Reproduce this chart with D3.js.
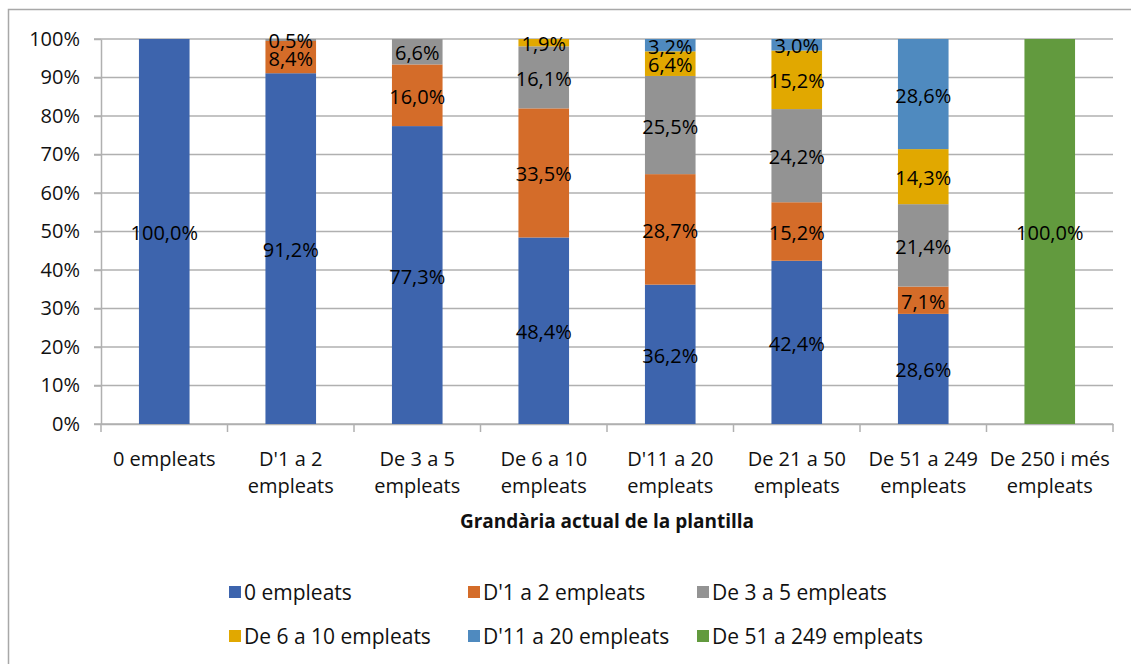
<!DOCTYPE html>
<html>
  <head>
    <meta charset="utf-8" />
    <title>Grandària actual de la plantilla</title>
    <script src="https://d3js.org/d3.v7.min.js"></script>
    <style>
      body { margin: 0; background: #fff; }
      text { font-family: "Open Sans", sans-serif; }
    </style>
  </head>
  <body>
    <svg width="1131" height="664"></svg>
    <script>
      // categories (x axis) and series
      var categories = ["0 empleats", "D'1 a 2 empleats", "De 3 a 5 empleats", "De 6 a 10 empleats",
        "D'11 a 20 empleats", "De 21 a 50 empleats", "De 51 a 249 empleats", "De 250 i més empleats"];
      var seriesNames = ["0 empleats", "D'1 a 2 empleats", "De 3 a 5 empleats",
        "De 6 a 10 empleats", "D'11 a 20 empleats", "De 51 a 249 empleats"];
      var s0 = [100, 91.2, 77.3, 48.4, 36.2, 42.4, 28.6, 0];
      var s1 = [0, 8.4, 16.0, 33.5, 28.7, 15.2, 7.1, 0];
      var s2 = [0, 0.5, 6.6, 16.1, 25.5, 24.2, 21.4, 0];
      var s3 = [0, 0, 0, 1.9, 6.4, 15.2, 14.3, 0];
      var s4 = [0, 0, 0, 0, 3.2, 3.0, 28.6, 0];
      var s5 = [0, 0, 0, 0, 0, 0, 0, 100];
      var seriesValues = [s0, s1, s2, s3, s4, s5];
      var colors = ["#3D64AD", "#D46C29", "#939393", "#E1A800", "#4F8ABF", "#629A3E"];
      var yTicks = [0, 0.1, 0.2, 0.3, 0.4, 0.5, 0.6, 0.7, 0.8, 0.9, 1];
      var axisTitle = "Grandària actual de la plantilla";

      var svg = d3.select("svg");
      var plotLeft = 101, plotRight = 1113, plotTop = 39, plotBottom = 424;

      var locale = d3.formatLocale({ decimal: ",", thousands: ".", grouping: [3], currency: ["", "€"] });
      var fmtLabel = locale.format(".1f");
      var fmtTick = locale.format(".0%");

      // chart border
      svg.append("rect")
        .attr("x", 8.5).attr("y", 9.5)
        .attr("width", 1200).attr("height", 700)
        .attr("fill", "none").attr("stroke", "#A8A8A8").attr("stroke-width", 1.5);

      var table = categories.map(function (c, i) {
        var row = { cat: c };
        seriesNames.forEach(function (s, j) { row[s] = seriesValues[j][i]; });
        return row;
      });

      var stacked = d3.stack().keys(seriesNames).offset(d3.stackOffsetExpand)(table);

      var x = d3.scaleBand().domain(categories).range([plotLeft, plotRight])
        .paddingInner(0.6).paddingOuter(0.3);
      var y = d3.scaleLinear().domain([0, 1]).range([plotBottom, plotTop]);

      // gridlines
      svg.append("g").selectAll("line").data(yTicks).enter().append("line")
        .attr("x1", plotLeft - 7).attr("x2", plotRight)
        .attr("y1", function (d) { return y(d); })
        .attr("y2", function (d) { return y(d); })
        .attr("stroke", "#B0B0B0").attr("stroke-width", 1.5);

      // y axis
      var yAxis = svg.append("g").attr("transform", "translate(" + plotLeft + ",0)")
        .call(d3.axisLeft(y).tickValues(yTicks).tickFormat(fmtTick).tickSize(7).tickSizeOuter(0).tickPadding(14));
      yAxis.select(".domain").attr("stroke", "#B0B0B0").attr("stroke-width", 1.5);
      yAxis.selectAll(".tick line").attr("stroke", "#B0B0B0").attr("stroke-width", 1.5);
      yAxis.selectAll("text").style("font-size", "20px").attr("fill", "#111");

      // x axis
      var xAxis = svg.append("g").attr("transform", "translate(0," + plotBottom + ")")
        .call(d3.axisBottom(x).tickSize(0).tickSizeOuter(0).tickPadding(0));
      xAxis.select(".domain").attr("stroke", "#B0B0B0").attr("stroke-width", 1.5);
      var half = x.step() * x.paddingInner() / 2;
      var bounds = categories.map(function (c) { return x(c) - half; });
      bounds.push(x(categories[categories.length - 1]) + x.bandwidth() + half);
      xAxis.selectAll(".bound").data(bounds).enter().append("line")
        .attr("x1", function (d) { return d; }).attr("x2", function (d) { return d; })
        .attr("y1", 0).attr("y2", 8)
        .attr("stroke", "#B0B0B0").attr("stroke-width", 1.5);

      xAxis.selectAll(".tick text").each(function (d) {
        var t = d3.select(this);
        var words = d.split(" ");
        t.text(null).style("font-size", "20px").attr("fill", "#111").attr("y", 0).attr("dy", null);
        var lines = [], cur = [];
        var probe = t.append("tspan");
        words.forEach(function (w) {
          cur.push(w);
          probe.text(cur.join(" "));
          if (probe.node().getComputedTextLength() > x.step() - 4 && cur.length > 1) {
            cur.pop();
            lines.push(cur.join(" "));
            cur = [w];
          }
        });
        lines.push(cur.join(" "));
        probe.remove();
        lines.forEach(function (l, k) {
          t.append("tspan").attr("x", 0).attr("y", 34 + k * 27)
            .attr("dominant-baseline", "central").text(l);
        });
      });

      // bars
      var layer = svg.append("g").selectAll("g").data(stacked).enter().append("g")
        .attr("fill", function (d, i) { return colors[i]; });
      layer.selectAll("rect").data(function (d) { return d; }).enter().append("rect")
        .attr("x", function (d) { return x(d.data.cat); })
        .attr("width", x.bandwidth())
        .attr("y", function (d) { return y(d[1]); })
        .attr("height", function (d) { return y(d[0]) - y(d[1]); });

      // data labels
      var labels = svg.append("g");
      stacked.forEach(function (s) {
        s.forEach(function (d) {
          var v = d.data[s.key];
          if (!v) return;
          labels.append("text")
            .attr("x", x(d.data.cat) + x.bandwidth() / 2)
            .attr("y", y((d[0] + d[1]) / 2) + 1)
            .attr("text-anchor", "middle")
            .attr("dominant-baseline", "central")
            .style("font-size", "20px")
            .attr("fill", "#000")
            .text(fmtLabel(v) + "%");
        });
      });

      // axis title
      svg.append("text")
        .attr("x", (plotLeft + plotRight) / 2).attr("y", 521)
        .attr("text-anchor", "middle").attr("dominant-baseline", "central")
        .style("font-size", "19px").style("font-weight", "bold").attr("fill", "#111")
        .text(axisTitle);

      // legend
      var legendCols = [229, 468, 697], legendRows = [592, 636];
      var leg = svg.append("g").selectAll("g").data(seriesNames).enter().append("g")
        .attr("transform", function (d, i) {
          return "translate(" + legendCols[i % 3] + "," + legendRows[Math.floor(i / 3)] + ")";
        });
      leg.append("rect").attr("x", 0).attr("y", -6).attr("width", 12).attr("height", 12)
        .attr("fill", function (d, i) { return colors[i]; });
      leg.append("text").attr("x", 15).attr("y", 0).attr("dominant-baseline", "central")
        .style("font-size", "21px").attr("fill", "#111")
        .text(function (d) { return d; });
    </script>
  </body>
</html>
